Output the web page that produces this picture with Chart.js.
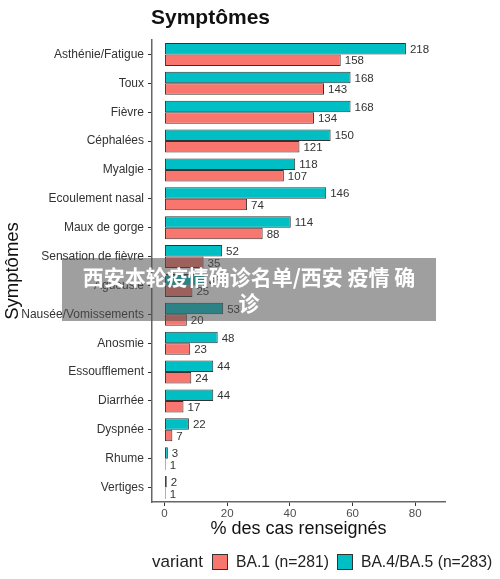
<!DOCTYPE html>
<html><head><meta charset="utf-8">
<script src="https://cdn.jsdelivr.net/npm/chart.js@4/dist/chart.umd.min.js"></script>
<style>
html,body{margin:0;padding:0;background:#fff;}
#wrap{position:relative;width:500px;height:579px;overflow:hidden;font-family:"Liberation Sans",Arial,sans-serif;}
#title{position:absolute;left:151px;top:5px;font-size:21px;font-weight:bold;color:#111;}
#legend{position:absolute;left:152px;top:552px;font-size:17px;color:#222;white-space:nowrap;display:flex;align-items:center;}
#legend .box{display:inline-block;width:14px;height:14px;border:1px solid #333;margin:0 8px 0 8px;}
#legend .it{font-size:15.7px;}
#overlay{position:absolute;left:62px;top:258px;width:374px;height:63px;background:rgba(80,80,80,0.55);color:#fff;font-family:"Noto Sans CJK SC",sans-serif;font-weight:bold;font-size:21px;line-height:26px;text-align:center;}
#overlay div{padding-top:5px;}
</style></head>
<body><div id="wrap">
<canvas id="c" width="500" height="579"></canvas>
<div id="title">Symptômes</div>
<div id="legend"><span>variant</span><span class="box" style="background:#F8766D;margin-left:9px"></span><span class="it">BA.1 (n=281)</span><span class="box" style="background:#00BFC4"></span><span class="it">BA.4/BA.5 (n=283)</span></div>
<div id="overlay"><div>西安本轮疫情确诊名单/西安 疫情 确<br>诊</div></div>
</div>
<script>
const categories = ["Asthénie/Fatigue","Toux","Fièvre","Céphalées","Myalgie","Ecoulement nasal","Maux de gorge","Sensation de fièvre","Agueusie","Nausée/Vomissements","Anosmie","Essoufflement","Diarrhée","Dyspnée","Rhume","Vertiges"];
const countsBA45 = [218,168,168,150,118,146,114,52,36,53,48,44,44,22,3,2];
const countsBA1  = [158,143,134,121,107,74,88,35,25,20,23,24,17,7,1,1];
const nBA45 = 283;
const nBA1 = 281;
const xTicks = [0,20,40,60,80];

const pct = (arr, n) => arr.map(v => v / n * 100);

const labelPlugin = {
  id: 'countLabels',
  afterDatasetsDraw(chart) {
    const ctx = chart.ctx;
    ctx.save();
    ctx.font = '11.5px "Liberation Sans", Arial, sans-serif';
    ctx.fillStyle = '#333';
    ctx.textBaseline = 'middle';
    ctx.textAlign = 'left';
    chart.data.datasets.forEach((ds, i) => {
      const meta = chart.getDatasetMeta(i);
      meta.data.forEach((el, j) => {
        ctx.fillText(String(ds.counts[j]), el.x + 4, el.y + 1);
      });
    });
    ctx.restore();
  }
};

new Chart(document.getElementById('c'), {
  type: 'bar',
  data: {
    labels: categories,
    datasets: [
      {label: 'BA.4/BA.5 (n=283)', data: pct(countsBA45, nBA45), counts: countsBA45,
       backgroundColor: '#00BFC4', borderColor: '#333', borderWidth: 1, borderSkipped: false},
      {label: 'BA.1 (n=281)', data: pct(countsBA1, nBA1), counts: countsBA1,
       backgroundColor: '#F8766D', borderColor: '#333', borderWidth: 1, borderSkipped: false}
    ]
  },
  options: {
    indexAxis: 'y',
    responsive: false,
    animation: false,
    devicePixelRatio: 1,
    layout: {padding: {left: 0, right: 55, top: 40, bottom: 39}},
    datasets: {bar: {categoryPercentage: 0.8, barPercentage: 1.0}},
    plugins: {legend: {display: false}, tooltip: {enabled: false}},
    scales: {
      x: {
        min: -4, max: 89.5,
        afterBuildTicks: s => { s.ticks = xTicks.map(v => ({value: v})); },
        afterFit: s => { s.height = 38; },
        grid: {drawOnChartArea: false, drawTicks: true, tickLength: 4, color: '#333'},
        border: {display: true, color: '#666', width: 1.5},
        ticks: {color: '#4D4D4D', font: {size: 11.5, family: '"Liberation Sans", Arial'}, padding: 1},
        title: {display: true, text: '% des cas renseignés', color: '#111',
                font: {size: 18, family: '"Liberation Sans", Arial'}, padding: {top: 0, bottom: 0}}
      },
      y: {
        afterFit: s => { s.width = 152; },
        grid: {drawOnChartArea: false, drawTicks: true, tickLength: 4, color: '#333', offset: false},
        border: {display: true, color: '#666', width: 1.5},
        ticks: {color: '#333', font: {size: 12, family: '"Liberation Sans", Arial'}, padding: 4, autoSkip: false},
        title: {display: true, text: 'Symptômes', color: '#111',
                font: {size: 18.5, family: '"Liberation Sans", Arial'}, padding: {top: 2, bottom: 0}}
      }
    }
  },
  plugins: [labelPlugin]
});
</script>
</body></html>
